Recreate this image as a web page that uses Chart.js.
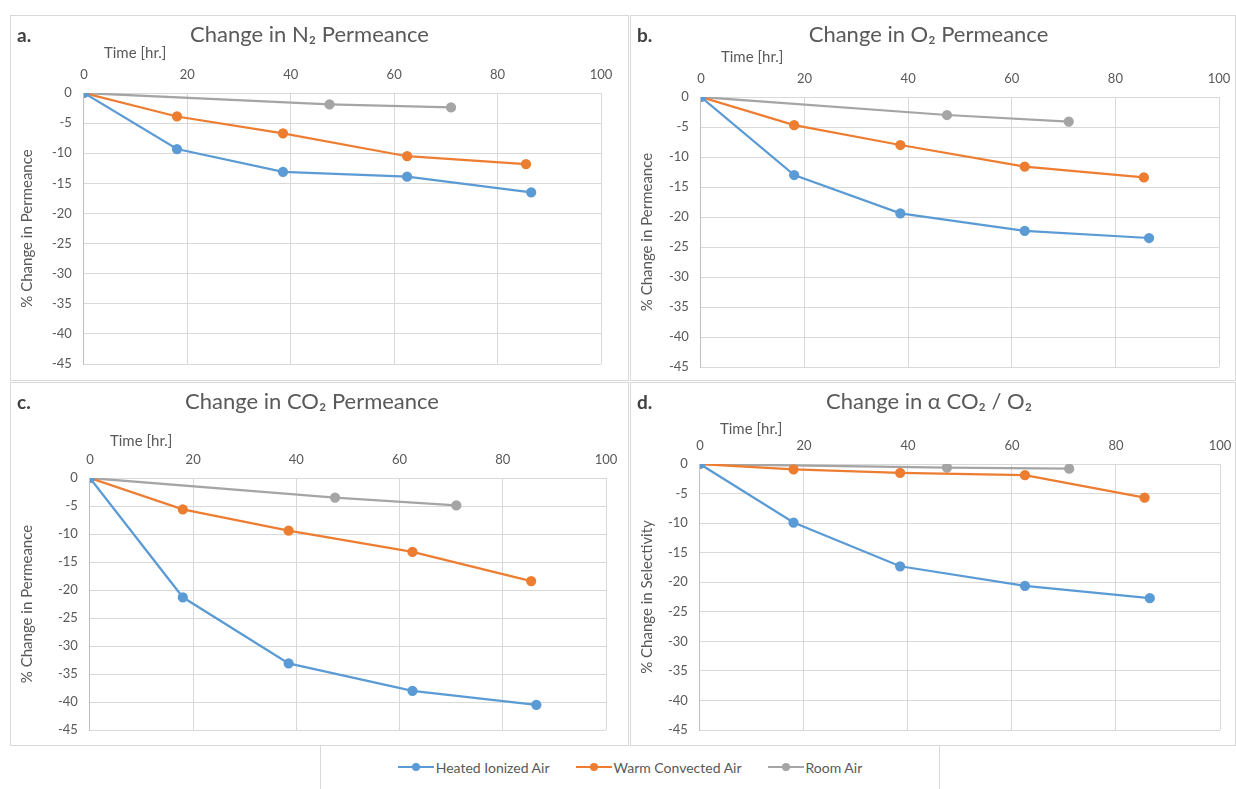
<!DOCTYPE html>
<html>
<head>
<meta charset="utf-8">
<script src="https://cdn.jsdelivr.net/npm/chart.js@4.4.0/dist/chart.umd.min.js"></script>
<style>
  body { margin: 0; background: #fff; width: 1236px; height: 789px; position: relative; overflow: hidden; font-family: Lato, "Open Sans", sans-serif; }
  .panel { position: absolute; border: 1px solid #d9d9d9; box-sizing: border-box; }
  .panel canvas { position: absolute; left: 0; top: 0; }
  .tag { position: absolute; left: 6px; top: 7px; font-size: 19px; font-weight: bold; color: #404040; }
  #legend { position: absolute; left: 320px; top: 745px; width: 620px; height: 44px; border-left: 1px solid #d9d9d9; border-right: 1px solid #d9d9d9; box-sizing: border-box; display: flex; justify-content: center; align-items: center; gap: 26px; font-size: 14px; color: #595959; }
  .item { display: flex; align-items: center; }
  .mk { position: relative; width: 36px; height: 10px; margin-right: 2px; }
  .mk::before { content: ""; position: absolute; left: 0; right: 0; top: 4px; height: 2px; background: var(--c); }
  .mk::after { content: ""; position: absolute; left: 14px; top: 1px; width: 8px; height: 8px; border-radius: 50%; background: var(--c); }
</style>
</head>
<body>
<div class="panel" id="pa" style="left:10px;top:15px;width:619px;height:366px"><canvas id="ca"></canvas><div class="tag">a.</div></div>
<div class="panel" id="pb" style="left:630px;top:15px;width:606px;height:366px"><canvas id="cb"></canvas><div class="tag">b.</div></div>
<div class="panel" id="pc" style="left:10px;top:382px;width:619px;height:364px"><canvas id="cc"></canvas><div class="tag">c.</div></div>
<div class="panel" id="pd" style="left:630px;top:382px;width:606px;height:364px"><canvas id="cd"></canvas><div class="tag">d.</div></div>
<div id="legend">
  <div class="item"><span class="mk" style="--c:#5B9BD5"></span>Heated Ionized Air</div>
  <div class="item"><span class="mk" style="--c:#ED7D31"></span>Warm Convected Air</div>
  <div class="item"><span class="mk" style="--c:#A5A5A5"></span>Room Air</div>
</div>
<script>
// tempos (h) de cada série
const timeHeated = [0, 18, 38.5, 62.5, 86.5];
const timeWarm = [0, 18, 38.5, 62.5, 85.5];
const timeRoom = [0, 47.5, 71];

const seriesNames = ['Heated Ionized Air', 'Warm Convected Air', 'Room Air'];
const seriesColors = ['#5B9BD5', '#ED7D31', '#A5A5A5'];

// a. N2
const n2Heated = [0, -9.3, -13.1, -13.9, -16.5];
const n2Warm = [0, -3.9, -6.7, -10.5, -11.8];
const n2Room = [0, -1.9, -2.4];
// b. O2
const o2Heated = [0, -13.0, -19.4, -22.3, -23.5];
const o2Warm = [0, -4.7, -8.0, -11.6, -13.4];
const o2Room = [0, -3.0, -4.1];
// c. CO2
const co2Heated = [0, -21.3, -33.1, -38.0, -40.5];
const co2Warm = [0, -5.6, -9.4, -13.2, -18.4];
const co2Room = [0, -3.5, -4.9];
// d. seletividade CO2/O2
const selHeated = [0, -9.9, -17.3, -20.6, -22.7];
const selWarm = [0, -0.9, -1.5, -1.9, -5.7];
const selRoom = [0, -0.6, -0.8];

const xTicks = [0, 20, 40, 60, 80, 100];
const yMin = -45, yMax = 0, yStep = 5;

const pts = (xs, ys) => xs.map((x, i) => ({ x: x, y: ys[i] }));

// rótulo "Time [hr.]" deslocado para a direita, como no Excel
const timeLabel = {
    id: 'timeLabel',
    afterDraw(chart, args, opts) {
        const { ctx, chartArea } = chart;
        ctx.save();
        ctx.font = '15px Lato';
        ctx.fillStyle = '#595959';
        ctx.textBaseline = 'middle';
        ctx.fillText('Time [hr.]', chartArea.left + 20, chartArea.top - opts.dy);
        ctx.restore();
    }
};

function makeChart(id, title, yTitle, heated, warm, room, pad) {
    const el = document.getElementById(id);
    const box = el.parentElement;
    el.width = box.clientWidth;
    el.height = box.clientHeight;
    const sets = [pts(timeHeated, heated), pts(timeWarm, warm), pts(timeRoom, room)];
    return new Chart(el, {
        type: 'line',
        data: {
            datasets: sets.map((d, i) => ({
                label: seriesNames[i],
                data: d,
                borderColor: seriesColors[i],
                backgroundColor: seriesColors[i],
                borderWidth: 2.25,
                pointRadius: 4,
                pointHoverRadius: 4,
                tension: 0
            }))
        },
        plugins: [timeLabel],
        options: {
            responsive: false,
            animation: false,
            layout: { padding: { left: 7, right: pad.right, top: 0, bottom: pad.bottom } },
            plugins: {
                legend: { display: false },
                tooltip: { enabled: false },
                timeLabel: { dy: pad.dy },
                title: {
                    display: true,
                    text: title,
                    color: '#595959',
                    font: { family: 'Lato', size: 22, weight: 'normal' },
                    padding: { top: 6, bottom: pad.titleGap }
                }
            },
            scales: {
                x: {
                    type: 'linear',
                    position: 'top',
                    min: 0, max: 100,
                    afterBuildTicks: s => { s.ticks = xTicks.map(v => ({ value: v })); },
                    afterFit: s => { s.paddingRight = 0; },
                    grid: { color: '#d9d9d9', drawTicks: false },
                    border: { color: '#d9d9d9' },
                    ticks: { color: '#595959', font: { family: 'Lato', size: 13 }, padding: 10 }
                },
                y: {
                    min: yMin, max: yMax,
                    afterFit: s => { s.paddingBottom = 0; },
                    ticks: { stepSize: yStep, color: '#595959', font: { family: 'Lato', size: 13 }, padding: 12 },
                    grid: { color: '#d9d9d9', drawTicks: false },
                    border: { color: '#bfbfbf' },
                    title: {
                        display: true, text: yTitle,
                        color: '#595959', font: { family: 'Lato', size: 15 },
                        padding: { top: 0, bottom: pad.yGap }
                    }
                }
            }
        }
    });
}

makeChart('ca', 'Change in N\u2082 Permeance', '% Change in Permeance', n2Heated, n2Warm, n2Room,
    { right: 27, bottom: 16, titleGap: 9, yGap: 4, dy: 40 });
makeChart('cb', 'Change in O\u2082 Permeance', '% Change in Permeance', o2Heated, o2Warm, o2Room,
    { right: 16, bottom: 13, titleGap: 13, yGap: 1, dy: 40 });
makeChart('cc', 'Change in CO\u2082 Permeance', '% Change in Permeance', co2Heated, co2Warm, co2Room,
    { right: 22, bottom: 15, titleGap: 27, yGap: 10, dy: 37 });
makeChart('cd', 'Change in \u03b1 CO\u2082 / O\u2082', '% Change in Selectivity', selHeated, selWarm, selRoom,
    { right: 15, bottom: 15, titleGap: 13, yGap: 0, dy: 35 });
</script>
</body>
</html>
